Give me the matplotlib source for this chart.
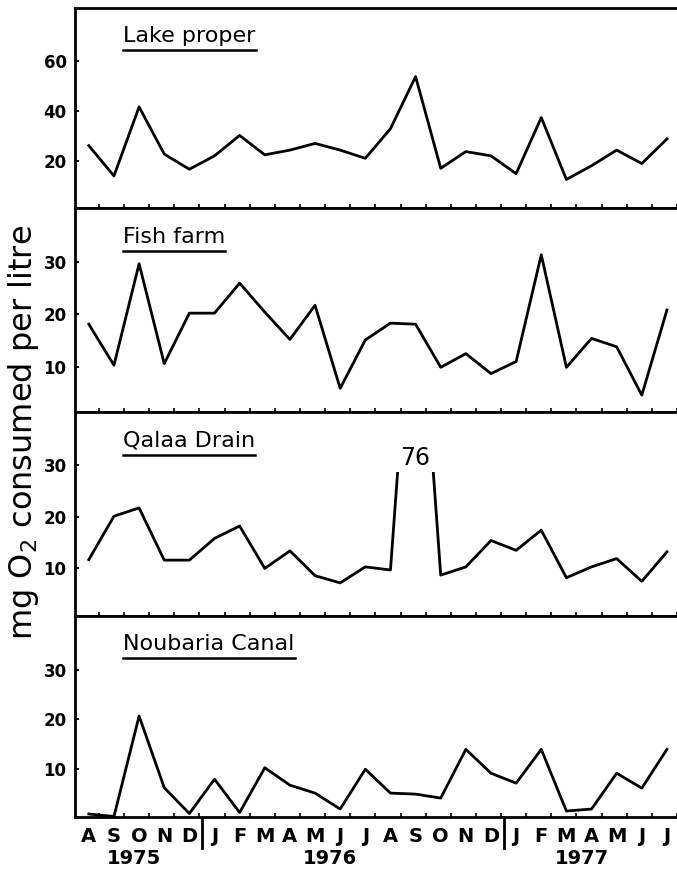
import numpy as np
import matplotlib
matplotlib.use('Agg')
import matplotlib.pyplot as plt
from matplotlib.lines import Line2D
from matplotlib.patches import Rectangle

# months Aug 1975 .. Jul 1977
months = ['A', 'S', 'O', 'N', 'D', 'J', 'F', 'M', 'A', 'M', 'J', 'J',
          'A', 'S', 'O', 'N', 'D', 'J', 'F', 'M', 'A', 'M', 'J', 'J']
years = ['1975', '1976', '1977']
year_pos = [1.8, 9.6, 19.6]
year_breaks = [4.5, 16.5]

lake_proper = [26.1, 13.9, 41.7, 22.7, 16.6, 22.0, 30.2, 22.4, 24.3, 27.0, 24.3, 21.0,
               32.9, 53.9, 17.0, 23.7, 22.0, 14.8, 37.4, 12.5, 18.0, 24.3, 18.9, 28.8]
fish_farm = [18.1, 10.3, 29.6, 10.6, 20.2, 20.2, 25.9, 20.4, 15.2, 21.7, 5.9, 15.1,
             18.3, 18.1, 9.9, 12.5, 8.7, 11.0, 31.3, 9.9, 15.4, 13.8, 4.6, 20.8]
qalaa_drain = [11.7, 20.1, 21.7, 11.6, 11.6, 15.8, 18.2, 10.0, 13.4, 8.6, 7.2, 10.3,
               9.7, 76.0, 8.7, 10.3, 15.4, 13.5, 17.4, 8.2, 10.3, 11.9, 7.5, 13.2]
noubaria_canal = [1.0, 0.5, 20.7, 6.3, 1.1, 8.0, 1.3, 10.3, 6.8, 5.2, 2.0, 10.0,
                  5.2, 5.0, 4.2, 14.0, 9.2, 7.2, 14.0, 1.6, 2.0, 9.2, 6.2, 14.0]

titles = ['Lake proper', 'Fish farm', 'Qalaa Drain', 'Noubaria Canal']
series = [lake_proper, fish_farm, qalaa_drain, noubaria_canal]
ylims = [(1.0, 81.5), (1.4, 40.2), (0.8, 40.25), (0.4, 40.8)]
yticks = [[20, 40, 60], [10, 20, 30], [10, 20, 30], [10, 20, 30]]

W, H = 677, 872
fig = plt.figure(figsize=(W / 100, H / 100), dpi=100)

# panel edges in pixels (top of image = 0)
edges = [8, 208, 412, 616, 817]
left_px = 75
x = np.arange(len(months))

axes = []
for i in range(4):
    top, bot = edges[i], edges[i + 1]
    ax = fig.add_axes([left_px / W, 1 - bot / H, 1 - left_px / W, (bot - top) / H])
    axes.append(ax)
    ax.set_xlim(-0.55, 23.2)
    ax.set_ylim(*ylims[i])
    for s in ['left', 'top', 'bottom']:
        ax.spines[s].set_linewidth(2)
    ax.spines['right'].set_visible(False)

    line, = ax.plot(x, series[i], color='black', lw=2)

    ax.set_yticks(yticks[i])
    ax.set_yticklabels([str(v) for v in yticks[i]], fontsize=12, fontweight='bold')
    ax.tick_params(axis='y', direction='in', length=3, width=1.5, pad=6)

    ax.set_xticks(x + 0.4, minor=True)
    ax.tick_params(axis='x', which='minor', direction='in', length=3, width=1.2)
    ax.set_xticks(x)
    if i == 3:
        ax.set_xticklabels(months, fontsize=14, fontweight='bold')
        ax.tick_params(axis='x', which='major', length=0, pad=7)
    else:
        ax.set_xticklabels([])
        ax.tick_params(axis='x', which='major', length=0)

    ax.text(0.08, 0.83, titles[i], transform=ax.transAxes, fontsize=16,
            ha='left', va='baseline')

    if i == 2:
        # off-scale peak: break the line and write the value
        clip = Rectangle((-1, 0), 26, 28.7, transform=ax.transData)
        line.set_clip_path(clip)
        ax.text(13, 31.3, '76', ha='center', va='center', fontsize=17)

# underline panel titles
fig.canvas.draw()
renderer = fig.canvas.get_renderer()
for ax in axes:
    t = ax.texts[0]
    bb = t.get_window_extent(renderer=renderer)
    y0 = bb.y0 - 4
    fig.add_artist(Line2D([bb.x0 / W, bb.x1 / W], [y0 / H, y0 / H],
                          transform=fig.transFigure, color='black', lw=1.8))

ax = axes[3]
trans = ax.get_xaxis_transform()
ph = edges[4] - edges[3]
for yr, pos in zip(years, year_pos):
    ax.text(pos, -(858 - 817) / ph, yr, transform=trans, ha='center', va='center',
            fontsize=14, fontweight='bold')
for b in year_breaks:
    ax.add_line(Line2D([b, b], [0, -(848 - 817) / ph], transform=trans, color='black',
                       lw=2, clip_on=False))

fig.text(24 / W, 1 - 432 / H, 'mg O$_2$ consumed per litre', rotation=90,
         ha='center', va='center', fontsize=23)

fig.savefig('out.png', dpi=100)
